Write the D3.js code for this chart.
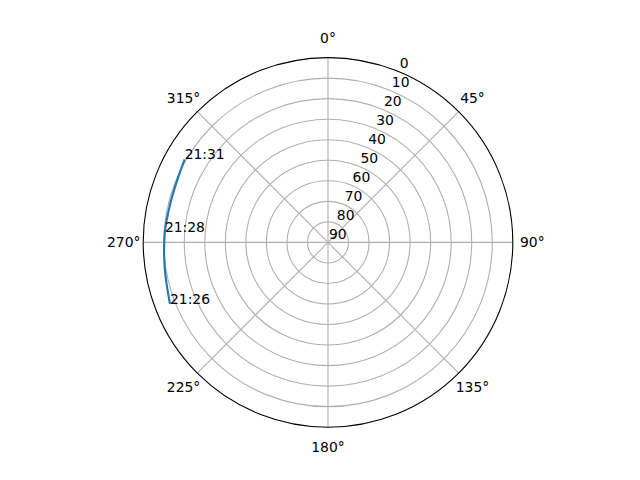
<!DOCTYPE html>
<html>
<head>
<meta charset="utf-8">
<script src="https://cdn.jsdelivr.net/npm/d3@7"></script>
<style>
  body { margin: 0; background: #fff; }
  text { font-family: "DejaVu Sans", sans-serif; font-size: 13.9px; fill: #000; }
</style>
</head>
<body>
<svg id="chart" width="640" height="480"></svg>
<script>
// pass track: time, azimuth (deg, clockwise from N), elevation (deg)
const times = ["21:26", "21:27", "21:28", "21:29", "21:30", "21:31"];
const azimuth = [248.7, 261.0, 273.5, 283.5, 292.0, 300.1];
const elevation = [7.4, 9.5, 10.4, 10.9, 10.6, 9.3];
const labeledTimes = ["21:26", "21:28", "21:31"];

const radialTicks = [0, 10, 20, 30, 40, 50, 60, 70, 80, 90];
const angleTicks = [0, 45, 90, 135, 180, 225, 270, 315];

const width = 640, height = 480,
    cx = 328, cy = 242.4, R = 184.8

const svg = d3.select("#chart")

const g = svg.append("g")
    .attr("transform", "translate(" + cx + "," + cy + ")")

// elevation 0 at the rim, 90 in the centre
const r = d3.scaleLinear()
    .domain([0, 90])
    .range([R, 0])

const rad = d => d * Math.PI / 180
const px = (az, rr) => rr * Math.sin(rad(az))
const py = (az, rr) => -rr * Math.cos(rad(az))

// grid rings
g.append("g")
    .selectAll("circle")
    .data(radialTicks.filter(d => d > 0 && d < 90))
    .join("circle")
        .attr("r", d => r(d))
        .attr("fill", "none")
        .attr("stroke", "#b0b0b0")
        .attr("stroke-width", 1.1)

// spokes
g.append("g")
    .selectAll("line")
    .data(angleTicks)
    .join("line")
        .attr("x1", 0)
        .attr("y1", 0)
        .attr("x2", d => px(d, R))
        .attr("y2", d => py(d, R))
        .attr("stroke", "#b0b0b0")
        .attr("stroke-width", 1.1)

// track
const data = times.map((t, i) => ({ time: t, az: azimuth[i], el: elevation[i] }))

const line = d3.lineRadial()
    .angle(d => rad(d.az))
    .radius(d => r(d.el))
    .curve(d3.curveCatmullRom)

g.append("path")
    .datum(data)
    .attr("d", line)
    .attr("fill", "none")
    .attr("stroke", "#1f77b4")
    .attr("stroke-width", 2.1)

// outer spine
g.append("circle")
    .attr("r", R)
    .attr("fill", "none")
    .attr("stroke", "#000")
    .attr("stroke-width", 1.1)

// time labels
g.append("g")
    .selectAll("text")
    .data(data.filter(d => labeledTimes.includes(d.time)))
    .join("text")
        .attr("x", d => px(d.az, r(d.el)))
        .attr("y", d => py(d.az, r(d.el)))
        .text(d => d.time)

// radial tick labels at 22.5 deg
g.append("g")
    .selectAll("text")
    .data(radialTicks)
    .join("text")
        .attr("x", d => px(22.5, r(d)) + 1)
        .attr("y", d => py(22.5, r(d)) - 3.3)
        .text(d => d)

// angle labels
g.append("g")
    .selectAll("text")
    .data(angleTicks)
    .join("text")
        .attr("x", d => px(d, R + 19.5))
        .attr("y", d => py(d, R + 19.5))
        .attr("text-anchor", "middle")
        .attr("dominant-baseline", "central")
        .text(d => d + "°")
</script>
</body>
</html>
